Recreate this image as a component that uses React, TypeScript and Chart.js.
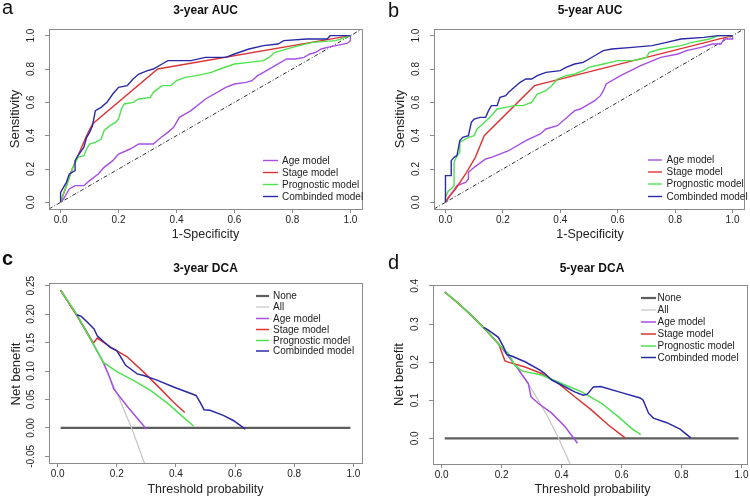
import React, { useEffect, useRef } from "react";
import { Chart, registerables } from "chart.js";

Chart.register(...registerables);

// ---------------- DATA ----------------
// Tick labels
const rocTicks = [0, 0.2, 0.4, 0.6, 0.8, 1.0];
const dcaXTicks = [0, 0.2, 0.4, 0.6, 0.8, 1.0];
const dca3YTicks = [-0.05, 0, 0.05, 0.1, 0.15, 0.2, 0.25];
const dca5YTicks = [0, 0.1, 0.2, 0.3, 0.4];

const seriesNamesRoc = ["Age model", "Stage model", "Prognostic model", "Combinded model"];
const seriesNamesDca = ["None", "All", "Age model", "Stage model", "Prognostic model", "Combinded model"];

// a) 3-year ROC  (x = 1-Specificity, y = Sensitivity)
const roc3AgeX = [0, 0.01, 0.02, 0.03, 0.05, 0.08, 0.10, 0.13, 0.15, 0.18, 0.20, 0.24, 0.27, 0.32, 0.34, 0.37, 0.39, 0.41, 0.45, 0.50, 0.57, 0.60, 0.64, 0.66, 0.68, 0.70, 0.74, 0.78, 0.81, 0.84, 0.86, 0.88, 0.90, 0.92, 0.95, 0.99, 1.0, 1.0];
const roc3AgeY = [0, 0.02, 0.05, 0.08, 0.10, 0.10, 0.13, 0.17, 0.21, 0.25, 0.29, 0.32, 0.35, 0.35, 0.38, 0.42, 0.45, 0.51, 0.55, 0.62, 0.69, 0.71, 0.72, 0.73, 0.76, 0.78, 0.82, 0.86, 0.86, 0.87, 0.89, 0.90, 0.92, 0.93, 0.94, 0.955, 0.97, 1.0];
const roc3StageX = [0, 0.02, 0.04, 0.07, 0.09, 0.11, 0.335, 1.0];
const roc3StageY = [0, 0.10, 0.20, 0.32, 0.40, 0.47, 0.80, 1.0];
const roc3ProgX = [0, 0.02, 0.04, 0.06, 0.08, 0.09, 0.10, 0.12, 0.14, 0.15, 0.17, 0.19, 0.20, 0.21, 0.22, 0.25, 0.27, 0.31, 0.32, 0.35, 0.38, 0.40, 0.43, 0.47, 0.52, 0.55, 0.60, 0.65, 0.70, 0.72, 0.74, 0.80, 0.87, 0.95, 1.0];
const roc3ProgY = [0, 0.10, 0.20, 0.27, 0.28, 0.32, 0.35, 0.36, 0.38, 0.43, 0.46, 0.48, 0.50, 0.56, 0.59, 0.60, 0.62, 0.63, 0.66, 0.70, 0.70, 0.73, 0.75, 0.76, 0.78, 0.80, 0.83, 0.84, 0.85, 0.87, 0.90, 0.93, 0.96, 0.97, 1.0];
const roc3CombX = [0, 0, 0.01, 0.02, 0.03, 0.05, 0.05, 0.06, 0.08, 0.09, 0.10, 0.11, 0.12, 0.14, 0.16, 0.18, 0.20, 0.23, 0.25, 0.27, 0.30, 0.32, 0.35, 0.37, 0.45, 0.50, 0.57, 0.60, 0.65, 0.70, 0.75, 0.77, 0.85, 0.92, 0.93, 1.0];
const roc3CombY = [0, 0.06, 0.09, 0.12, 0.17, 0.19, 0.25, 0.28, 0.33, 0.39, 0.42, 0.46, 0.55, 0.57, 0.60, 0.65, 0.69, 0.70, 0.74, 0.77, 0.79, 0.80, 0.83, 0.85, 0.85, 0.87, 0.87, 0.89, 0.92, 0.94, 0.95, 0.97, 0.98, 0.98, 1.0, 1.0];

// b) 5-year ROC
const roc5AgeX = [0, 0.02, 0.04, 0.07, 0.08, 0.08, 0.10, 0.14, 0.16, 0.22, 0.23, 0.28, 0.33, 0.35, 0.39, 0.43, 0.45, 0.47, 0.52, 0.54, 0.55, 0.56, 0.61, 0.68, 0.75, 0.81, 0.84, 0.89, 0.93, 0.96, 0.97, 1.0, 1.0];
const roc5AgeY = [0, 0.05, 0.10, 0.12, 0.14, 0.18, 0.21, 0.26, 0.27, 0.31, 0.32, 0.37, 0.41, 0.44, 0.46, 0.52, 0.55, 0.56, 0.61, 0.64, 0.67, 0.71, 0.76, 0.82, 0.87, 0.89, 0.91, 0.93, 0.95, 0.95, 0.98, 0.98, 1.0];
const roc5StageX = [0, 0.01, 0.035, 0.07, 0.104, 0.135, 0.31, 1.0];
const roc5StageY = [0, 0.03, 0.08, 0.17, 0.27, 0.40, 0.70, 1.0];
const roc5ProgX = [0, 0, 0.01, 0.02, 0.03, 0.03, 0.04, 0.05, 0.05, 0.07, 0.08, 0.10, 0.11, 0.13, 0.16, 0.18, 0.21, 0.24, 0.27, 0.30, 0.32, 0.35, 0.37, 0.39, 0.42, 0.45, 0.48, 0.50, 0.55, 0.60, 0.65, 0.68, 0.70, 0.71, 0.75, 0.82, 0.86, 0.92, 0.95, 1.0];
const roc5ProgY = [0, 0.03, 0.07, 0.08, 0.10, 0.24, 0.28, 0.30, 0.36, 0.38, 0.39, 0.40, 0.44, 0.47, 0.52, 0.56, 0.57, 0.58, 0.58, 0.60, 0.65, 0.67, 0.70, 0.74, 0.76, 0.77, 0.79, 0.81, 0.83, 0.85, 0.85, 0.86, 0.87, 0.90, 0.92, 0.94, 0.96, 0.98, 1.0, 1.0];
const roc5CombX = [0, 0, 0.02, 0.02, 0.03, 0.04, 0.05, 0.06, 0.08, 0.09, 0.10, 0.12, 0.14, 0.15, 0.16, 0.18, 0.19, 0.21, 0.22, 0.24, 0.26, 0.28, 0.30, 0.32, 0.35, 0.40, 0.42, 0.45, 0.48, 0.50, 0.53, 0.55, 0.58, 0.65, 0.72, 0.77, 0.82, 0.90, 0.95, 1.0];
const roc5CombY = [0, 0.16, 0.16, 0.25, 0.27, 0.28, 0.37, 0.39, 0.40, 0.48, 0.50, 0.51, 0.51, 0.55, 0.58, 0.58, 0.63, 0.64, 0.66, 0.69, 0.72, 0.74, 0.74, 0.76, 0.78, 0.79, 0.81, 0.83, 0.84, 0.86, 0.89, 0.91, 0.92, 0.93, 0.94, 0.96, 0.98, 0.99, 1.0, 1.0];

// c) 3-year DCA  (x = threshold probability, y = net benefit)
const dca3NoneX = [0.01, 0.99];
const dca3NoneY = [0, 0];
const dca3AllX = [0.01, 0.05, 0.10, 0.15, 0.20, 0.25, 0.30];
const dca3AllY = [0.242, 0.210, 0.167, 0.118, 0.062, 0.0, -0.071];
const dca3AgeX = [0.01, 0.065, 0.12, 0.155, 0.175, 0.19, 0.24, 0.30];
const dca3AgeY = [0.242, 0.198, 0.148, 0.115, 0.090, 0.068, 0.035, -0.002];
const dca3StageX = [0.01, 0.065, 0.121, 0.134, 0.179, 0.235, 0.291, 0.347, 0.392, 0.43];
const dca3StageY = [0.242, 0.198, 0.149, 0.158, 0.142, 0.125, 0.098, 0.069, 0.045, 0.027];
const dca3ProgX = [0.01, 0.065, 0.155, 0.20, 0.258, 0.314, 0.37, 0.425, 0.46];
const dca3ProgY = [0.242, 0.199, 0.115, 0.099, 0.083, 0.066, 0.044, 0.019, 0.003];
const dca3CombX = [0.065, 0.08, 0.10, 0.123, 0.134, 0.157, 0.179, 0.20, 0.213, 0.23, 0.246, 0.269, 0.291, 0.336, 0.392, 0.437, 0.468, 0.482, 0.495, 0.515, 0.56, 0.594, 0.635];
const dca3CombY = [0.199, 0.196, 0.186, 0.174, 0.162, 0.151, 0.141, 0.136, 0.125, 0.110, 0.104, 0.095, 0.092, 0.084, 0.072, 0.063, 0.057, 0.045, 0.032, 0.031, 0.022, 0.013, -0.002];

// d) 5-year DCA
const dca5NoneX = [0.01, 0.99];
const dca5NoneY = [0, 0];
const dca5AllX = [0.01, 0.05, 0.10, 0.15, 0.20, 0.25, 0.30, 0.35, 0.39, 0.43];
const dca5AllY = [0.384, 0.358, 0.322, 0.282, 0.238, 0.187, 0.129, 0.062, 0.0, -0.070];
const dca5AgeX = [0.01, 0.05, 0.10, 0.15, 0.20, 0.25, 0.289, 0.298, 0.322, 0.367, 0.411, 0.453];
const dca5AgeY = [0.384, 0.358, 0.322, 0.282, 0.238, 0.187, 0.144, 0.109, 0.092, 0.066, 0.031, -0.013];
const dca5StageX = [0.01, 0.05, 0.10, 0.15, 0.19, 0.211, 0.222, 0.278, 0.333, 0.389, 0.444, 0.50, 0.556, 0.612];
const dca5StageY = [0.384, 0.358, 0.322, 0.282, 0.248, 0.203, 0.200, 0.187, 0.170, 0.144, 0.109, 0.074, 0.035, 0.001];
const dca5ProgX = [0.01, 0.05, 0.10, 0.15, 0.20, 0.222, 0.244, 0.267, 0.333, 0.40, 0.467, 0.533, 0.589, 0.633, 0.664];
const dca5ProgY = [0.384, 0.358, 0.322, 0.282, 0.238, 0.223, 0.192, 0.177, 0.166, 0.144, 0.122, 0.092, 0.057, 0.026, 0.010];
const dca5CombX = [0.14, 0.156, 0.189, 0.206, 0.217, 0.233, 0.278, 0.328, 0.344, 0.367, 0.40, 0.444, 0.472, 0.486, 0.506, 0.53, 0.60, 0.662, 0.672, 0.69, 0.706, 0.751, 0.795, 0.831];
const dca5CombY = [0.291, 0.284, 0.265, 0.240, 0.220, 0.216, 0.201, 0.179, 0.170, 0.153, 0.140, 0.122, 0.113, 0.116, 0.135, 0.136, 0.120, 0.106, 0.100, 0.066, 0.053, 0.041, 0.024, 0.001];

// ---------------- STYLE ----------------
const FONT = "'Liberation Sans', Arial, Helvetica, sans-serif";
const C_AGE = "#a64ee6";
const C_STAGE = "#dd3535";
const C_PROG = "#4ee24e";
const C_COMB = "#2a2aa6";
const C_NONE = "#5e5e5e";
const C_ALL = "#c4c4c4";
const C_BOX = "#8a8a8a";
const C_TEXT = "#222222";
const X_AXIS_H = 22; // height reserved for the x-axis tick labels

type Series = { label: string; xs: number[]; ys: number[]; color: string; width: number; order: number };

type PanelSpec = {
  id: string;
  left: number;
  top: number;
  w: number;
  h: number;
  pad: { left: number; top: number; right: number; bottom: number };
  xMin: number; xMax: number; yMin: number; yMax: number;
  xTicks: number[]; yTicks: number[]; xDec: number; yDec: number;
  letter: string; letterBold: boolean; letterX: number; letterY: number;
  title: string; titleX: number; titleY: number;
  xTitle: string; xTitleX: number; xTitleY: number;
  yTitle: string; yTitleX: number; yTitleY: number;
  diag: boolean;
  series: Series[];
  legendNames: string[];
  legendColors: string[];
  legendWidths: number[];
  legX0: number; legX1: number; legTextX: number; legRows: number[];
};

const rocSeries = (ax: number[], ay: number[], sx: number[], sy: number[], px: number[], py: number[], cx: number[], cy: number[]): Series[] => [
  { label: seriesNamesRoc[0], xs: ax, ys: ay, color: C_AGE, width: 1.4, order: 3 },
  { label: seriesNamesRoc[1], xs: sx, ys: sy, color: C_STAGE, width: 1.4, order: 2 },
  { label: seriesNamesRoc[2], xs: px, ys: py, color: C_PROG, width: 1.4, order: 1 },
  { label: seriesNamesRoc[3], xs: cx, ys: cy, color: C_COMB, width: 1.4, order: 0 },
];

const dcaSeries = (nx: number[], ny: number[], lx: number[], ly: number[], ax: number[], ay: number[], sx: number[], sy: number[], px: number[], py: number[], cx: number[], cy: number[]): Series[] => [
  { label: seriesNamesDca[0], xs: nx, ys: ny, color: C_NONE, width: 2.2, order: 5 },
  { label: seriesNamesDca[1], xs: lx, ys: ly, color: C_ALL, width: 1.2, order: 4 },
  { label: seriesNamesDca[2], xs: ax, ys: ay, color: C_AGE, width: 1.5, order: 3 },
  { label: seriesNamesDca[3], xs: sx, ys: sy, color: C_STAGE, width: 1.5, order: 2 },
  { label: seriesNamesDca[4], xs: px, ys: py, color: C_PROG, width: 1.5, order: 1 },
  { label: seriesNamesDca[5], xs: cx, ys: cy, color: C_COMB, width: 1.5, order: 0 },
];

const rocLegendColors = [C_AGE, C_STAGE, C_PROG, C_COMB];
const dcaLegendColors = [C_NONE, C_ALL, C_AGE, C_STAGE, C_PROG, C_COMB];

const panels: PanelSpec[] = [
  {
    id: "a", left: 0, top: 0, w: 375, h: 250,
    pad: { left: 49, top: 29, right: 13, bottom: 41 },
    xMin: -0.04, xMax: 1.04, yMin: -0.04, yMax: 1.04,
    xTicks: rocTicks, yTicks: rocTicks, xDec: 1, yDec: 1,
    letter: "a", letterBold: false, letterX: 2, letterY: 14,
    title: "3-year AUC", titleX: 205.5, titleY: 10.5,
    xTitle: "1-Specificity", xTitleX: 205.5, xTitleY: 235,
    yTitle: "Sensitivity", yTitleX: 15, yTitleY: 119,
    diag: true,
    series: rocSeries(roc3AgeX, roc3AgeY, roc3StageX, roc3StageY, roc3ProgX, roc3ProgY, roc3CombX, roc3CombY),
    legendNames: seriesNamesRoc, legendColors: rocLegendColors, legendWidths: [1.4, 1.4, 1.4, 1.4],
    legX0: 263, legX1: 278, legTextX: 282, legRows: [160.5, 172.5, 184.5, 196.5],
  },
  {
    id: "b", left: 375, top: 0, w: 375, h: 250,
    pad: { left: 59, top: 29, right: 6, bottom: 41 },
    xMin: -0.04, xMax: 1.04, yMin: -0.04, yMax: 1.04,
    xTicks: rocTicks, yTicks: rocTicks, xDec: 1, yDec: 1,
    letter: "b", letterBold: false, letterX: 13, letterY: 16.5,
    title: "5-year AUC", titleX: 215, titleY: 10.5,
    xTitle: "1-Specificity", xTitleX: 215, xTitleY: 235,
    yTitle: "Sensitivity", yTitleX: 25, yTitleY: 119,
    diag: true,
    series: rocSeries(roc5AgeX, roc5AgeY, roc5StageX, roc5StageY, roc5ProgX, roc5ProgY, roc5CombX, roc5CombY),
    legendNames: seriesNamesRoc, legendColors: rocLegendColors, legendWidths: [1.4, 1.4, 1.4, 1.4],
    legX0: 273, legX1: 287, legTextX: 291.5, legRows: [160, 172, 184, 196.5],
  },
  {
    id: "c", left: 0, top: 250, w: 375, h: 249,
    pad: { left: 49, top: 33, right: 13, bottom: 36 },
    xMin: -0.0292, xMax: 1.0292, yMin: -0.0617, yMax: 0.2547,
    xTicks: dcaXTicks, yTicks: dca3YTicks, xDec: 1, yDec: 2,
    letter: "c", letterBold: true, letterX: 2, letterY: 15,
    title: "3-year DCA", titleX: 205.5, titleY: 18.5,
    xTitle: "Threshold probability", xTitleX: 205.5, xTitleY: 239.5,
    yTitle: "Net benefit", yTitleX: 16.5, yTitleY: 124,
    diag: false,
    series: dcaSeries(dca3NoneX, dca3NoneY, dca3AllX, dca3AllY, dca3AgeX, dca3AgeY, dca3StageX, dca3StageY, dca3ProgX, dca3ProgY, dca3CombX, dca3CombY),
    legendNames: seriesNamesDca, legendColors: dcaLegendColors, legendWidths: [2.2, 1.2, 1.5, 1.5, 1.5, 1.5],
    legX0: 256, legX1: 269, legTextX: 273, legRows: [46, 57, 68.5, 79.5, 90.5, 101],
  },
  {
    id: "d", left: 375, top: 250, w: 375, h: 249,
    pad: { left: 58, top: 35, right: 3, bottom: 35 },
    xMin: -0.029, xMax: 1.017, yMin: -0.0674, yMax: 0.4024,
    xTicks: dcaXTicks, yTicks: dca5YTicks, xDec: 1, yDec: 1,
    letter: "d", letterBold: false, letterX: 13, letterY: 19,
    title: "5-year DCA", titleX: 217, titleY: 18.5,
    xTitle: "Threshold probability", xTitleX: 217.5, xTitleY: 240,
    yTitle: "Net benefit", yTitleX: 24, yTitleY: 124.5,
    diag: false,
    series: dcaSeries(dca5NoneX, dca5NoneY, dca5AllX, dca5AllY, dca5AgeX, dca5AgeY, dca5StageX, dca5StageY, dca5ProgX, dca5ProgY, dca5CombX, dca5CombY),
    legendNames: seriesNamesDca, legendColors: dcaLegendColors, legendWidths: [2.2, 1.2, 1.5, 1.5, 1.5, 1.5],
    legX0: 266, legX1: 281, legTextX: 282.5, legRows: [48, 60, 72, 84, 96, 107.5],
  },
];

function makePlugin(p: PanelSpec) {
  return {
    id: "panelDecor_" + p.id,
    beforeDraw(chart: any) {
      const ctx = chart.ctx;
      ctx.save();
      ctx.fillStyle = "#ffffff";
      ctx.fillRect(0, 0, chart.width, chart.height);
      ctx.restore();
    },
    beforeDatasetsDraw(chart: any) {
      if (!p.diag) return;
      const ctx = chart.ctx;
      const xs = chart.scales.x;
      const ys = chart.scales.y;
      const ca = chart.chartArea;
      const lo = Math.max(xs.min, ys.min);
      const hi = Math.min(xs.max, ys.max);
      ctx.save();
      ctx.beginPath();
      ctx.rect(ca.left, ca.top, ca.right - ca.left, ca.bottom - ca.top);
      ctx.clip();
      ctx.strokeStyle = "#333333";
      ctx.lineWidth = 1;
      ctx.setLineDash([4, 2, 1, 2]);
      ctx.beginPath();
      ctx.moveTo(xs.getPixelForValue(lo), ys.getPixelForValue(lo));
      ctx.lineTo(xs.getPixelForValue(hi), ys.getPixelForValue(hi));
      ctx.stroke();
      ctx.restore();
    },
    afterDraw(chart: any) {
      const ctx = chart.ctx;
      const ca = chart.chartArea;
      const ys = chart.scales.y;
      ctx.save();
      // box
      ctx.strokeStyle = C_BOX;
      ctx.lineWidth = 1;
      ctx.setLineDash([]);
      const l = Math.round(ca.left) + 0.5;
      const t = Math.round(ca.top) + 0.5;
      const r = Math.round(ca.right) + 0.5;
      const b = Math.round(ca.bottom) + 0.5;
      ctx.strokeRect(l, t, r - l, b - t);

      // y tick labels (rotated, R style)
      ctx.fillStyle = C_TEXT;
      ctx.font = `10px ${FONT}`;
      ctx.textAlign = "center";
      ctx.textBaseline = "middle";
      for (const v of p.yTicks) {
        const y = ys.getPixelForValue(v);
        ctx.save();
        ctx.translate(ca.left - 17.5, y);
        ctx.rotate(-Math.PI / 2);
        ctx.fillText(v.toFixed(p.yDec), 0, 0);
        ctx.restore();
      }

      // titles
      ctx.fillStyle = "#111111";
      ctx.font = `bold 12px ${FONT}`;
      ctx.fillText(p.title, p.titleX, p.titleY);

      ctx.fillStyle = C_TEXT;
      ctx.font = `12.5px ${FONT}`;
      ctx.fillText(p.xTitle, p.xTitleX, p.xTitleY);

      ctx.save();
      ctx.translate(p.yTitleX, p.yTitleY);
      ctx.rotate(-Math.PI / 2);
      ctx.font = `13px ${FONT}`;
      ctx.fillText(p.yTitle, 0, 0);
      ctx.restore();

      // panel letter
      ctx.fillStyle = "#111111";
      ctx.font = `${p.letterBold ? "bold " : ""}20px ${FONT}`;
      ctx.textAlign = "left";
      ctx.textBaseline = "alphabetic";
      ctx.fillText(p.letter, p.letterX, p.letterY);

      // legend (no box)
      ctx.font = `10px ${FONT}`;
      ctx.textBaseline = "middle";
      p.legendNames.forEach((name, i) => {
        const y = p.legRows[i];
        ctx.strokeStyle = p.legendColors[i];
        ctx.lineWidth = p.legendWidths[i];
        ctx.beginPath();
        ctx.moveTo(p.legX0, y);
        ctx.lineTo(p.legX1, y);
        ctx.stroke();
        ctx.fillStyle = C_TEXT;
        ctx.fillText(name, p.legTextX, y + 0.5);
      });
      ctx.restore();
    },
  };
}

function buildConfig(p: PanelSpec): any {
  const datasets = p.series.map((s) => ({
    label: s.label,
    data: s.xs.map((x, i) => ({ x, y: s.ys[i] })),
    borderColor: s.color,
    backgroundColor: s.color,
    borderWidth: s.width,
    pointRadius: 0,
    pointHoverRadius: 0,
    showLine: true,
    fill: false,
    tension: 0,
    order: s.order,
  }));
  const gridOpts = {
    display: true,
    drawOnChartArea: false,
    drawTicks: true,
    tickLength: 4,
    color: C_BOX,
    lineWidth: 1,
  };
  return {
    type: "scatter",
    data: { datasets },
    options: {
      responsive: false,
      animation: false,
      devicePixelRatio: 1,
      events: [],
      layout: {
        padding: { left: p.pad.left, top: p.pad.top, right: p.pad.right, bottom: p.pad.bottom - X_AXIS_H },
      },
      plugins: {
        legend: { display: false },
        tooltip: { enabled: false },
        title: { display: false },
      },
      scales: {
        x: {
          type: "linear",
          position: "bottom",
          min: p.xMin,
          max: p.xMax,
          afterBuildTicks: (s: any) => {
            s.ticks = p.xTicks.map((v) => ({ value: v }));
          },
          afterFit: (s: any) => {
            s.height = X_AXIS_H;
          },
          grid: gridOpts,
          border: { display: false },
          ticks: {
            display: true,
            autoSkip: false,
            maxRotation: 0,
            minRotation: 0,
            padding: 1.5,
            color: C_TEXT,
            font: { family: FONT, size: 10 },
            callback: (v: any) => Number(v).toFixed(p.xDec),
          },
        },
        y: {
          type: "linear",
          position: "left",
          min: p.yMin,
          max: p.yMax,
          afterBuildTicks: (s: any) => {
            s.ticks = p.yTicks.map((v) => ({ value: v }));
          },
          afterFit: (s: any) => {
            s.width = 0;
          },
          grid: gridOpts,
          border: { display: false },
          ticks: { display: false },
        },
      },
    },
    plugins: [makePlugin(p)],
  };
}

function Panel({ spec }: { spec: PanelSpec }) {
  const ref = useRef<HTMLCanvasElement | null>(null);
  useEffect(() => {
    if (!ref.current) return;
    const chart = new Chart(ref.current, buildConfig(spec));
    return () => chart.destroy();
  }, [spec]);
  return (
    <canvas
      ref={ref}
      width={spec.w}
      height={spec.h}
      style={{ position: "absolute", left: spec.left, top: spec.top, width: spec.w, height: spec.h }}
    />
  );
}

export default function App() {
  return (
    <div style={{ position: "absolute", left: 0, top: 0, width: 750, height: 499, background: "#ffffff", overflow: "hidden" }}>
      {panels.map((p) => (
        <Panel key={p.id} spec={p} />
      ))}
    </div>
  );
}
